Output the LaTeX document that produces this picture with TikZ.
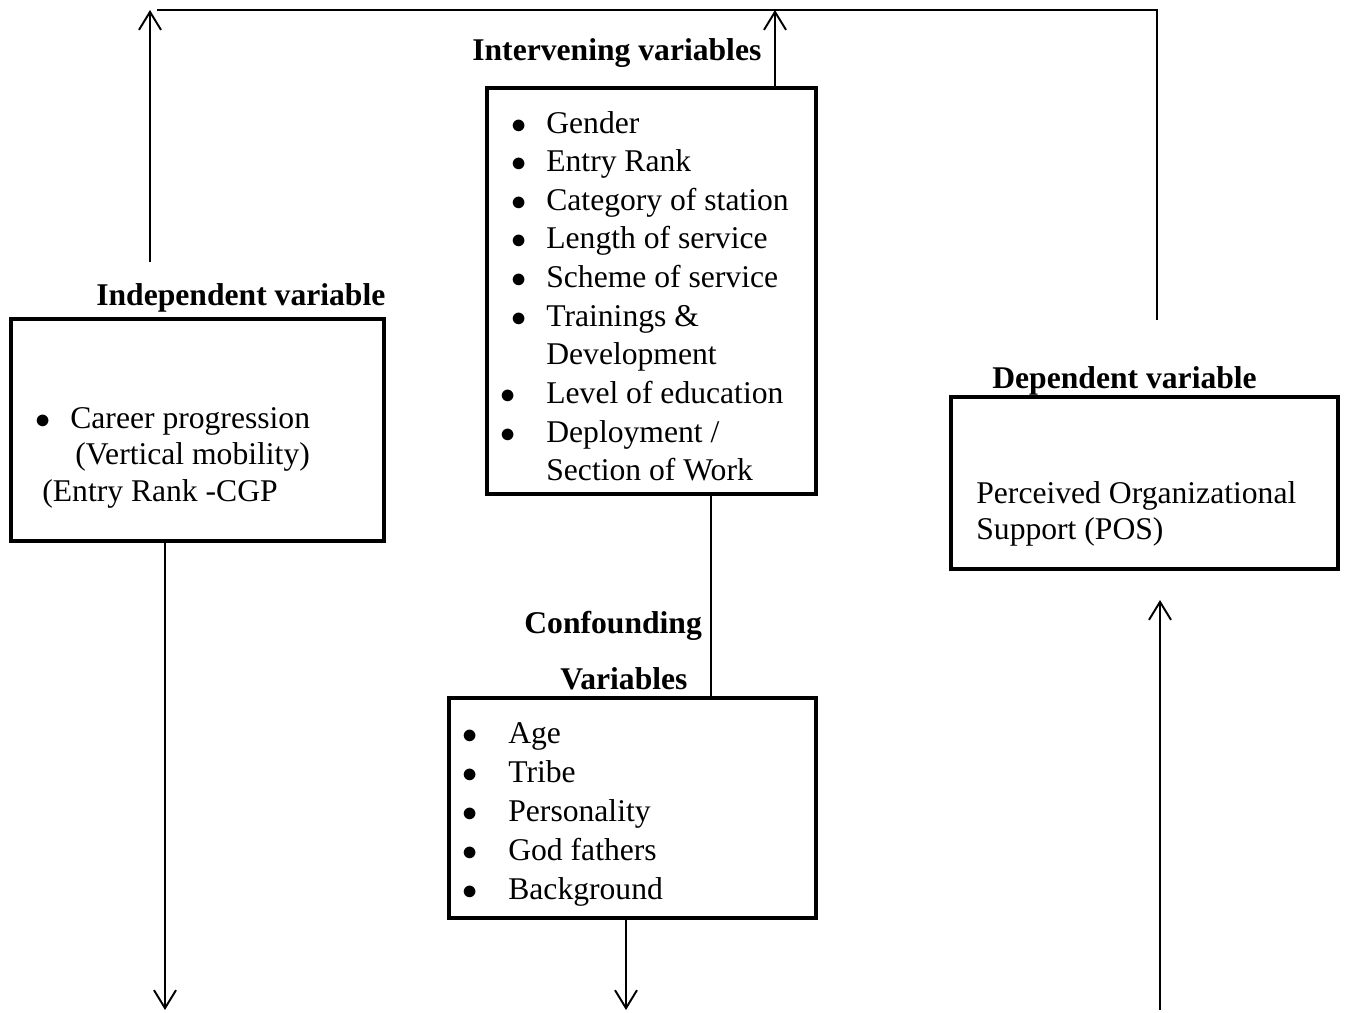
\documentclass[tikz,border=0pt]{standalone}
\usepackage{fontspec}
\setmainfont{Liberation Serif}
\usetikzlibrary{arrows.meta}
\newcommand{\bul}[1]{\makebox[#1][l]{$\bullet$}}
\begin{document}
\begin{tikzpicture}[x=0.02cm, y=-0.02cm,
	box/.style={draw, line width=2.3pt, inner sep=0},
	lab/.style={font=\fontsize{18}{22}\selectfont\bfseries, inner sep=0, anchor=base west},
	lst/.style={inner sep=0, anchor=base west},
	link/.style={line width=1.1pt},
	arr/.style={line width=1.1pt, -{Straight Barb[length=0.36cm,width=0.44cm]}}]
	\useasboundingbox (0,0) rectangle (1357,1012);
	% riquadri
	\node [box, minimum width=7.46cm, minimum height=4.44cm] (indep) at (197.5,430) {};
	\node [box, minimum width=6.58cm, minimum height=8.12cm] (inter) at (651.5,291) {};
	\node [box, minimum width=7.74cm, minimum height=3.44cm] (dep) at (1144.5,483) {};
	\node [box, minimum width=7.34cm, minimum height=4.4cm] (conf) at (632.5,808) {};
	% titoli
	\node [lab] (intertitle) at (472,60) {Intervening variables};
	\node [lab] (indeptitle) at (96,305) {Independent variable};
	\node [lab] (deptitle) at (992,388) {Dependent variable};
	\node [lab] (conftitle) at (524,633) {Confounding};
	\node [lab] (conftitleb) at (560,689) {Variables};
	% testi
	\node [lst, font=\fontsize{18}{22}\selectfont] (interlist) at (500,133) {%
		\begin{tabular}[t]{@{}l@{}}
			\hspace*{0.22cm}\bul{0.70cm}Gender\\
			\hspace*{0.22cm}\bul{0.70cm}Entry Rank\\
			\hspace*{0.22cm}\bul{0.70cm}Category of station\\
			\hspace*{0.22cm}\bul{0.70cm}Length of service\\
			\hspace*{0.22cm}\bul{0.70cm}Scheme of service\\
			\hspace*{0.22cm}\bul{0.70cm}Trainings \&\\
			\hspace*{0.92cm}Development\\
			\bul{0.92cm}Level of education\\
			\bul{0.92cm}Deployment /\\
			\hspace*{0.92cm}Section of Work
		\end{tabular}};
	\node [lst, font=\fontsize{18}{21}\selectfont] (indeplist) at (35,428) {%
		\begin{tabular}[t]{@{}l@{}}
			\bul{0.70cm}Career progression\\
			\hspace*{0.80cm}(Vertical mobility)\\
			\hspace*{0.14cm}(Entry Rank -CGP
		\end{tabular}};
	\node [lst, font=\fontsize{18}{21}\selectfont] (deplist) at (976,503) {%
		\begin{tabular}[t]{@{}l@{}}
			Perceived Organizational\\
			Support (POS)
		\end{tabular}};
	\node [lst, font=\fontsize{18}{22.2}\selectfont] (conflist) at (462,743) {%
		\begin{tabular}[t]{@{}l@{}}
			\bul{0.92cm}Age\\
			\bul{0.92cm}Tribe\\
			\bul{0.92cm}Personality\\
			\bul{0.92cm}God fathers\\
			\bul{0.92cm}Background
		\end{tabular}};
	% collegamenti
	\coordinate (lt) at (150,262);
	\coordinate (tl) at (157,10);
	\coordinate (tr) at (1157,10);
	\coordinate (rb) at (1157,320);
	\coordinate (im) at (775,10);
	\coordinate (cm) at (711,600);
	\coordinate (ib) at (165,1010);
	\coordinate (cb) at (626,1010);
	\coordinate (db) at (1160,1010);
	\coordinate (dt) at (1160,600);
	\draw [arr] (lt) -- (lt |- tl);
	\draw [link] (tl) -- (tr) -- (rb);
	\draw [arr] (inter.north -| im) -- (im);
	\draw [link] (inter.south -| cm) -- (conf.north -| cm);
	\draw [arr] (indep.south -| ib) -- (ib);
	\draw [arr] (conf.south -| cb) -- (cb);
	\draw [arr] (db) -- (dt);
\end{tikzpicture}
\end{document}
